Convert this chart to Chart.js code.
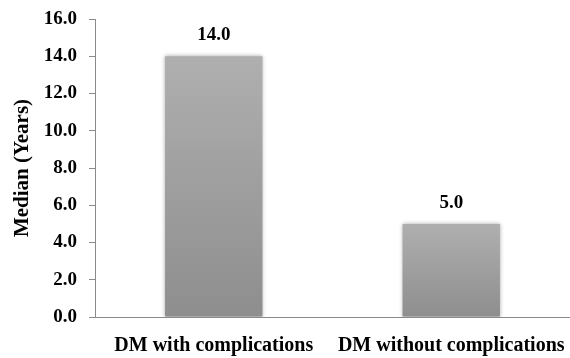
<!DOCTYPE html>
<html>
<head>
<meta charset="utf-8">
<script src="https://cdn.jsdelivr.net/npm/chart.js@4/dist/chart.umd.min.js"></script>
<style>
  html, body { margin: 0; padding: 0; background: #fff; }
  #wrap { width: 570px; height: 358px; position: relative; }
</style>
</head>
<body>
<div id="wrap"><canvas id="c"></canvas></div>
<script>
// Median duration (years) by diabetes group
const categories = ['DM with complications', 'DM without complications'];
const medianYears = [14.0, 5.0];
const yTicks = [0, 2, 4, 6, 8, 10, 12, 14, 16];

const FONT = '"Liberation Serif", "Times New Roman", serif';

// Vertical grey gradient per bar, light at the top, darker at the base
function barFill(context) {
  const chart = context.chart;
  const { ctx, chartArea, scales } = chart;
  if (!chartArea || !scales.y) return '#a0a0a0';
  const v = context.raw;
  const top = scales.y.getPixelForValue(v);
  const bottom = scales.y.getPixelForValue(0);
  const g = ctx.createLinearGradient(0, top, 0, bottom);
  g.addColorStop(0, '#afafaf');
  g.addColorStop(1, '#8e8e8e');
  return g;
}

// Soft halo round the bars
const barShadow = {
  id: 'barShadow',
  beforeDatasetDraw(chart) {
    const ctx = chart.ctx;
    ctx.save();
    ctx.shadowColor = 'rgba(0,0,0,0.35)';
    ctx.shadowBlur = 4;
    ctx.shadowOffsetX = 0;
    ctx.shadowOffsetY = 0;
  },
  afterDatasetDraw(chart) {
    chart.ctx.restore();
  }
};

// Value printed above each bar
const valueLabels = {
  id: 'valueLabels',
  afterDatasetsDraw(chart) {
    const ctx = chart.ctx;
    const meta = chart.getDatasetMeta(0);
    ctx.save();
    ctx.font = 'bold 19px ' + FONT;
    ctx.fillStyle = '#000';
    ctx.textAlign = 'center';
    ctx.textBaseline = 'alphabetic';
    meta.data.forEach((bar, i) => {
      const v = chart.data.datasets[0].data[i];
      ctx.fillText(v.toFixed(1), bar.x, bar.y - 16);
    });
    ctx.restore();
  }
};

new Chart(document.getElementById('c'), {
  type: 'bar',
  data: {
    labels: categories,
    datasets: [{
      data: medianYears,
      backgroundColor: barFill,
      borderWidth: 0,
      barPercentage: 0.41,
      categoryPercentage: 1.0
    }]
  },
  options: {
    responsive: true,
    maintainAspectRatio: false,
    animation: false,
    layout: { padding: { top: 19, right: 0, bottom: 2, left: 10 } },
    plugins: {
      legend: { display: false },
      tooltip: { enabled: false }
    },
    scales: {
      x: {
        afterFit(scale) {
          scale.height = 39;
          scale.paddingLeft = 0;
          scale.paddingRight = 0;
        },
        grid: { display: false, drawTicks: false },
        border: { color: '#8a8a8a', width: 1 },
        ticks: {
          color: '#000',
          padding: 17,
          maxRotation: 0,
          font: { family: FONT, size: 20, weight: 'bold' }
        }
      },
      y: {
        min: 0,
        max: 16,
        afterBuildTicks(scale) {
          scale.ticks = yTicks.map(v => ({ value: v }));
        },
        afterFit(scale) {
          scale.width = 85;
          scale.paddingTop = 0;
          scale.paddingBottom = 0;
        },
        grid: {
          display: true,
          drawOnChartArea: false,
          drawTicks: true,
          tickLength: 6,
          color: '#8a8a8a'
        },
        border: { color: '#8a8a8a', width: 1 },
        ticks: {
          color: '#000',
          padding: 12,
          callback: v => Number(v).toFixed(1),
          font: { family: FONT, size: 19, weight: 'bold' }
        },
        title: {
          display: true,
          text: 'Median (Years)',
          color: '#000',
          padding: { top: 0, bottom: 0 },
          font: { family: FONT, size: 21, weight: 'bold' }
        }
      }
    }
  },
  plugins: [barShadow, valueLabels]
});
</script>
</body>
</html>
